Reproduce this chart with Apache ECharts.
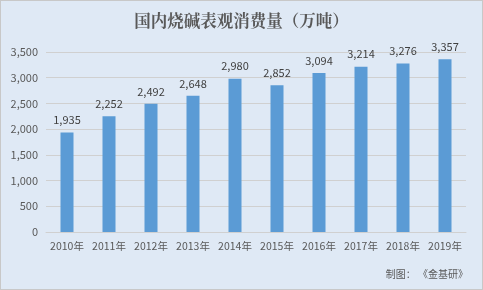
<!DOCTYPE html>
<html><head><meta charset="utf-8">
<script src="https://cdn.jsdelivr.net/npm/echarts@6/dist/echarts.min.js"></script>
<style>
html,body{margin:0;padding:0;background:#fff;}
#c{position:absolute;left:0;top:0;width:481px;height:288px;border:1px solid #c8c8c8;background:#dfe9f5;}
</style></head>
<body><div id="c"></div>
<script>
const categories = ["2010年","2011年","2012年","2013年","2014年","2015年","2016年","2017年","2018年","2019年"];
const values = [1935,2252,2492,2648,2980,2852,3094,3214,3276,3357];
const titleText = "国内烧碱表观消费量（万吨）";
const sourceText = "制图： 《金基研》";
const chart = echarts.init(document.getElementById('c'), null, {renderer:'canvas'});
chart.setOption({
  backgroundColor:'#dfe9f5',
  animation:false,
  title:{text:titleText,left:'center',top:6,textStyle:{fontFamily:'Noto Serif CJK SC, Noto Sans CJK SC, serif',fontSize:16.5,fontWeight:'bold',color:'#595959'}},
  graphic:[{type:'text',right:14,top:268,style:{text:sourceText,fontSize:10,fill:'#595959',fontFamily:'Noto Sans CJK SC'}}],
  grid:{left:45,right:16,top:51,bottom:57},
  xAxis:{type:'category',data:categories,
    axisLine:{lineStyle:{color:'#d0d0d0'}},axisTick:{show:false},
    axisLabel:{interval:0,color:'#595959',fontSize:10.5,margin:9,fontFamily:'Noto Sans CJK SC'}},
  yAxis:{type:'value',min:0,max:3500,interval:500,
    axisLine:{show:false},axisTick:{show:false},
    splitLine:{lineStyle:{color:'#d0d0d0'}},
    axisLabel:{color:'#595959',fontSize:11,margin:8,fontFamily:'Noto Sans CJK SC',
      formatter:v=>v.toLocaleString('en-US')}},
  series:[{type:'bar',data:values,barWidth:13,itemStyle:{color:'#5b9bd5'},
    label:{show:true,position:'top',distance:7,color:'#404040',fontSize:11,fontFamily:'Noto Sans CJK SC',
      formatter:p=>p.value.toLocaleString('en-US')}}]
});
</script></body></html>
